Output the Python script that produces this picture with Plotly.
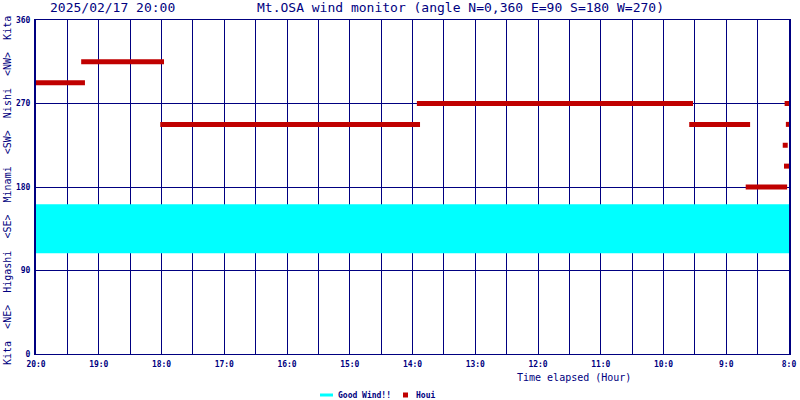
import plotly.graph_objects as go

# ---- data ----
hour_ticks = [20, 19, 18, 17, 16, 15, 14, 13, 12, 11, 10, 9, 8]
hour_labels = ["20:0", "19:0", "18:0", "17:0", "16:0", "15:0", "14:0",
               "13:0", "12:0", "11:0", "10:0", "9:0", "8:0"]
angle_ticks = [0, 90, 180, 270, 360]

# wind direction runs (start hour, end hour, angle in degrees)
seg_start = [20.00, 19.28, 18.02, 13.93, 9.59, 8.69]
seg_end = [19.22, 17.96, 13.88, 9.53, 8.62, 8.03]
seg_angle = [292.5, 315.0, 247.5, 270.0, 247.5, 180.0]

# isolated samples right at 8:00
pt_time = [8.03, 8.01, 8.06, 8.04]
pt_angle = [270.0, 247.5, 225.0, 202.5]

# "Good Wind!!" band
good_low = 108.5
good_high = 161.5

NAVY = "#000080"
RED = "#c00000"
CYAN = "#00ffff"
MONO = "DejaVu Sans Mono"

# plot area in pixels
L, R, T, B = 36, 789, 20, 354
W, H = 800, 400


def px(x):
    return (x - L) / (R - L)


def py(y):
    return (B - y) / (B - T)


fig = go.Figure()

# good wind band
fig.add_trace(go.Scatter(
    x=[hour_ticks[0], hour_ticks[-1], hour_ticks[-1], hour_ticks[0], hour_ticks[0]],
    y=[good_low, good_low, good_high, good_high, good_low],
    fill="toself", fillcolor=CYAN, mode="lines", line=dict(width=0, color=CYAN),
    hoverinfo="skip", showlegend=False))

# wind direction runs
xs, ys = [], []
for s, e, a in zip(seg_start, seg_end, seg_angle):
    xs += [s, e, None]
    ys += [a, a, None]
fig.add_trace(go.Scatter(x=xs, y=ys, mode="lines",
                         line=dict(color=RED, width=5), showlegend=False))

fig.add_trace(go.Scatter(x=pt_time, y=pt_angle, mode="markers",
                         marker=dict(symbol="square", size=5, color=RED, line=dict(width=0)),
                         cliponaxis=False, showlegend=False))

tickfont = dict(family=MONO, size=8, color=NAVY, weight="bold")

fig.update_xaxes(
    range=[20, 8], tickmode="array", tickvals=hour_ticks, ticktext=hour_labels,
    tickfont=tickfont, ticks="",
    showgrid=True, gridcolor=NAVY, gridwidth=1,
    minor=dict(tick0=8, dtick=0.5, showgrid=True, gridcolor=NAVY, gridwidth=1),
    showline=True, linecolor=NAVY, linewidth=1, mirror=True, zeroline=False,
    ticklabelstandoff=2, automargin=False,
)
fig.update_yaxes(
    range=[0, 360], tickmode="array", tickvals=angle_ticks,
    tickfont=tickfont, ticks="",
    showgrid=True, gridcolor=NAVY, gridwidth=1,
    showline=True, linecolor=NAVY, linewidth=2, mirror=True, zeroline=False,
    ticklabelstandoff=2, automargin=False,
)

annotations = [
    dict(text="2025/02/17 20:00", x=px(48), y=py(8), xanchor="left", yanchor="middle",
         font=dict(family=MONO, size=13, color=NAVY)),
    dict(text="Mt.OSA wind monitor (angle N=0,360 E=90 S=180 W=270)", x=px(255), y=py(8),
         xanchor="left", yanchor="middle", font=dict(family=MONO, size=13, color=NAVY)),
    dict(text="Kita  &lt;NE&gt;  Higashi  &lt;SE&gt;  Minami  &lt;SW&gt;  Nishi  &lt;NW&gt;  Kita",
         x=px(7), y=py(191), xanchor="center", yanchor="middle", textangle=-90,
         font=dict(family=MONO, size=10, color=NAVY)),
    dict(text="Time elapsed (Hour)", x=px(515), y=py(378), xanchor="left", yanchor="middle",
         font=dict(family=MONO, size=10, color=NAVY)),
    dict(text="Good Wind!!", x=px(336), y=py(395), xanchor="left", yanchor="middle",
         font=dict(family=MONO, size=8, color=NAVY, weight="bold")),
    dict(text="Houi", x=px(414), y=py(395), xanchor="left", yanchor="middle",
         font=dict(family=MONO, size=8, color=NAVY, weight="bold")),
]
for a in annotations:
    a.update(xref="paper", yref="paper", showarrow=False)

shapes = [
    dict(type="line", xref="paper", yref="paper", x0=px(320), x1=px(333), y0=py(395), y1=py(395),
         line=dict(color=CYAN, width=3)),
    dict(type="rect", xref="paper", yref="paper", x0=px(403), x1=px(408), y0=py(397.5), y1=py(392.5),
         fillcolor=RED, line=dict(width=0)),
]

fig.update_layout(
    width=W, height=H, margin=dict(l=L, r=W - R, t=T, b=H - B),
    paper_bgcolor="white", plot_bgcolor="white",
    annotations=annotations, shapes=shapes, showlegend=False,
)

fig.write_html("out.html", config={"displayModeBar": False},
               post_script="document.body.style.margin='0';document.body.style.padding='0';")
